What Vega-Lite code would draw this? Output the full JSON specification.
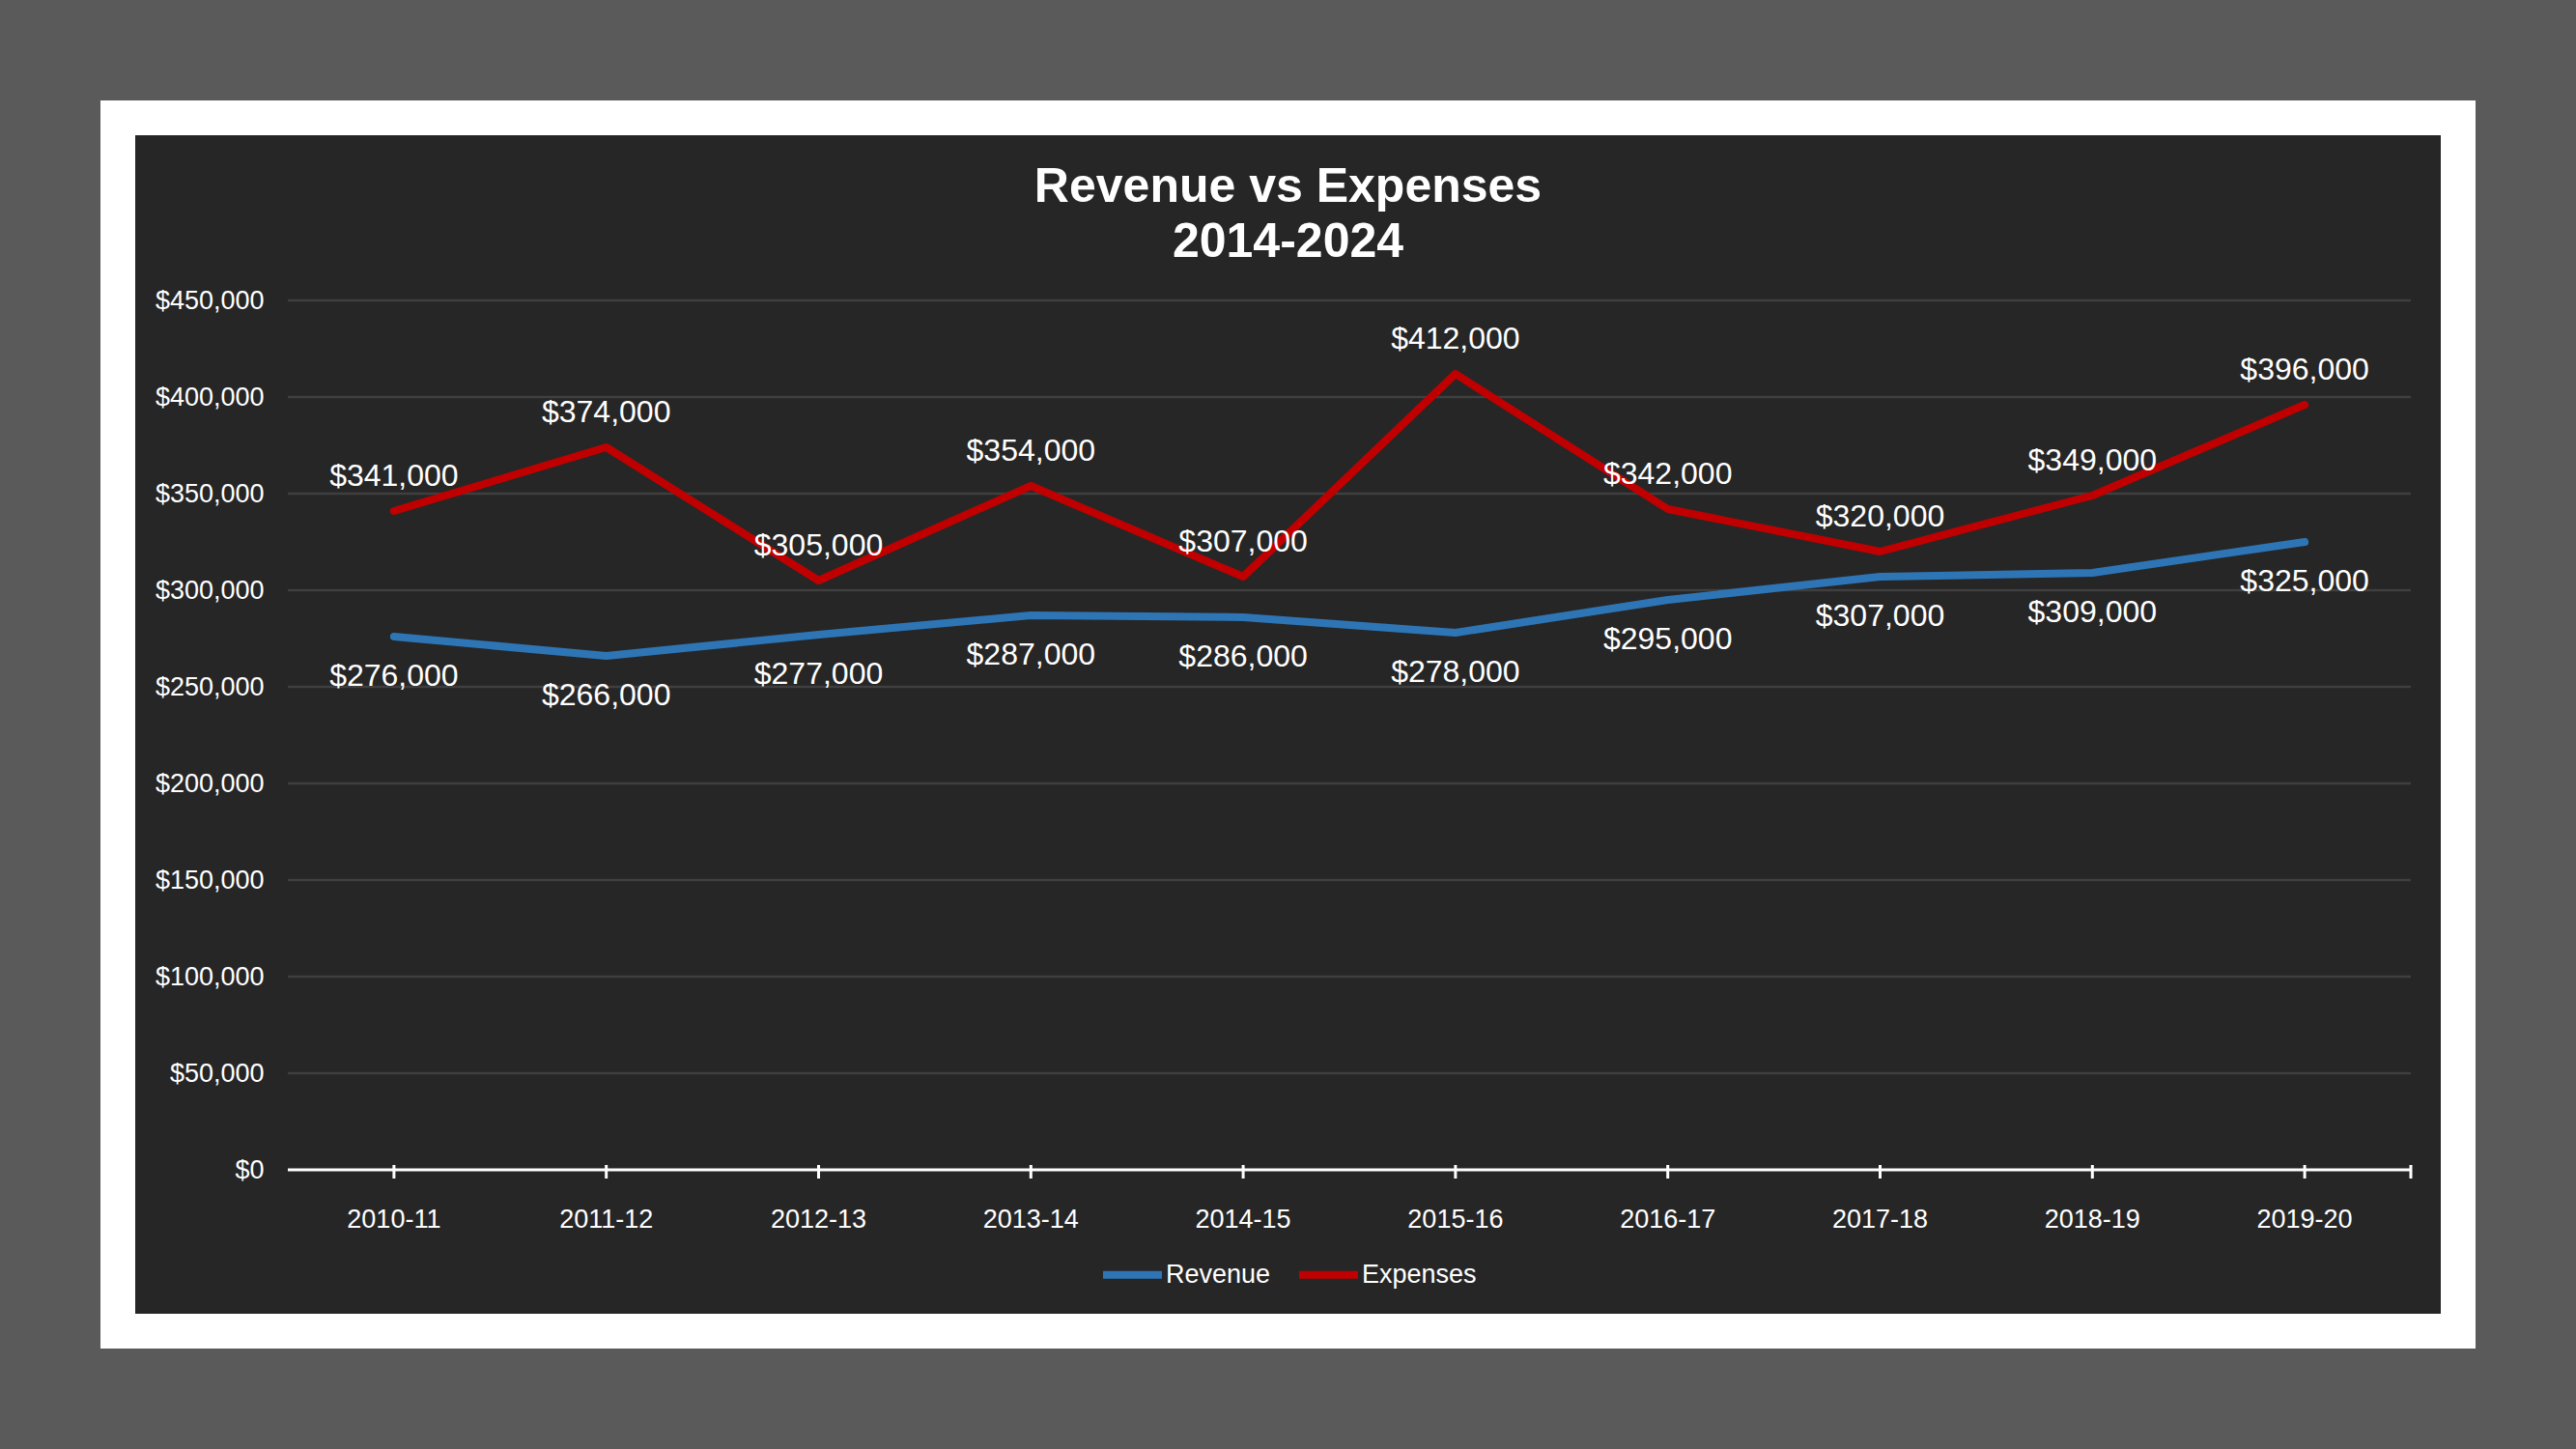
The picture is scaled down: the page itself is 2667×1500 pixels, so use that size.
{
  "$schema": "https://vega.github.io/schema/vega-lite/v6.json",
  "width": 2423,
  "height": 1256,
  "autosize": {"type": "none"},
  "padding": {"left": 122, "top": 122, "right": 122, "bottom": 122},
  "background": "#5a5a5a",
  "config": {
    "view": {"fill": "#262626", "stroke": "#ffffff", "strokeWidth": 36},
    "font": "Liberation Sans",
    "legend": {"layout": {"bottom": {"anchor": "middle"}}}
  },
  "title": {
    "text": ["Revenue vs Expenses", "2014-2024"],
    "fontSize": 50,
    "fontWeight": "bold",
    "color": "#ffffff",
    "font": "Liberation Sans",
    "lineHeight": 57,
    "anchor": "middle",
    "frame": "group",
    "baseline": "alphabetic",
    "offset": -194
  },
  "datasets": {
    "series": [
      {"year": "2010-11", "series": "Revenue", "value": 276000},
      {"year": "2011-12", "series": "Revenue", "value": 266000},
      {"year": "2012-13", "series": "Revenue", "value": 277000},
      {"year": "2013-14", "series": "Revenue", "value": 287000},
      {"year": "2014-15", "series": "Revenue", "value": 286000},
      {"year": "2015-16", "series": "Revenue", "value": 278000},
      {"year": "2016-17", "series": "Revenue", "value": 295000},
      {"year": "2017-18", "series": "Revenue", "value": 307000},
      {"year": "2018-19", "series": "Revenue", "value": 309000},
      {"year": "2019-20", "series": "Revenue", "value": 325000},
      {"year": "2010-11", "series": "Expenses", "value": 341000},
      {"year": "2011-12", "series": "Expenses", "value": 374000},
      {"year": "2012-13", "series": "Expenses", "value": 305000},
      {"year": "2013-14", "series": "Expenses", "value": 354000},
      {"year": "2014-15", "series": "Expenses", "value": 307000},
      {"year": "2015-16", "series": "Expenses", "value": 412000},
      {"year": "2016-17", "series": "Expenses", "value": 342000},
      {"year": "2017-18", "series": "Expenses", "value": 320000},
      {"year": "2018-19", "series": "Expenses", "value": 349000},
      {"year": "2019-20", "series": "Expenses", "value": 396000}
    ],
    "grid": [
      {"g": 50000}, {"g": 100000}, {"g": 150000}, {"g": 200000}, {"g": 250000},
      {"g": 300000}, {"g": 350000}, {"g": 400000}, {"g": 450000}
    ],
    "one": [{"k": 1}]
  },
  "layer": [
    {
      "data": {"name": "grid"},
      "mark": {"type": "rule", "color": "#3f3f3f", "strokeWidth": 2.5},
      "encoding": {
        "x": {"datum": "2010-11", "type": "ordinal", "bandPosition": 0},
        "x2": {"datum": "2019-20", "bandPosition": 1},
        "y": {"field": "g", "type": "quantitative"}
      }
    },
    {
      "data": {"name": "one"},
      "mark": {"type": "rule", "color": "#ffffff", "strokeWidth": 3},
      "encoding": {
        "x": {"datum": "2010-11", "type": "ordinal", "bandPosition": 0},
        "x2": {"datum": "2019-20", "bandPosition": 1},
        "y": {"datum": 0, "type": "quantitative"}
      }
    },
    {
      "data": {"name": "one"},
      "mark": {"type": "rule", "color": "#ffffff", "strokeWidth": 3},
      "encoding": {
        "x": {"datum": "2019-20", "type": "ordinal", "bandPosition": 1},
        "y": {"datum": 2500, "type": "quantitative"},
        "y2": {"datum": -4500}
      }
    },
    {
      "data": {"name": "series"},
      "transform": [{"filter": "datum.series === 'Revenue'"}],
      "mark": {"type": "rule", "color": "#ffffff", "strokeWidth": 3},
      "encoding": {
        "x": {"field": "year", "type": "ordinal"},
        "y": {"datum": 2500, "type": "quantitative"},
        "y2": {"datum": -4500}
      }
    },
    {
      "data": {"name": "series"},
      "mark": {"type": "line", "strokeWidth": 8, "strokeCap": "round", "strokeJoin": "round"},
      "encoding": {
        "x": {
          "field": "year",
          "type": "ordinal",
          "sort": null,
          "scale": {
            "domain": ["2010-11", "2011-12", "2012-13", "2013-14", "2014-15", "2015-16", "2016-17", "2017-18", "2018-19", "2019-20"],
            "paddingInner": 0,
            "paddingOuter": 0.5118,
            "align": 0.7822
          },
          "axis": {
            "orient": "bottom",
            "offset": -167,
            "domain": false,
            "ticks": false,
            "tickSize": 0,
            "grid": false,
            "labelPadding": 51,
            "labelAngle": 0,
            "labelAlign": "center",
            "labelFontSize": 27,
            "labelColor": "#ffffff",
            "labelFont": "Liberation Sans",
            "title": null
          }
        },
        "y": {
          "field": "value",
          "type": "quantitative",
          "scale": {"domain": [-83500, 544500], "nice": false, "zero": false},
          "axis": {
            "values": [0, 50000, 100000, 150000, 200000, 250000, 300000, 350000, 400000, 450000],
            "format": "$,.0f",
            "offset": -176,
            "domain": false,
            "ticks": false,
            "tickSize": 0,
            "grid": false,
            "labelPadding": 25,
            "labelFontSize": 27,
            "labelColor": "#ffffff",
            "labelFont": "Liberation Sans",
            "title": null
          }
        },
        "color": {
          "field": "series",
          "type": "nominal",
          "scale": {"domain": ["Revenue", "Expenses"], "range": ["#2e75b6", "#c00000"]},
          "legend": {
            "orient": "bottom",
            "direction": "horizontal",
            "title": null,
            "symbolType": "stroke",
            "symbolSize": 3721,
            "symbolStrokeWidth": 8,
            "labelFontSize": 27,
            "labelColor": "#ffffff",
            "labelFont": "Liberation Sans",
            "labelOffset": 0,
            "columnPadding": 13,
            "offset": -93,
            "padding": 0
          }
        }
      }
    },
    {
      "data": {"name": "series"},
      "transform": [{"filter": "datum.series === 'Expenses'"}],
      "mark": {"type": "text", "color": "#ffffff", "fontSize": 32, "font": "Liberation Sans", "baseline": "alphabetic", "dy": -26},
      "encoding": {
        "x": {"field": "year", "type": "ordinal"},
        "y": {"field": "value", "type": "quantitative"},
        "text": {"field": "value", "type": "quantitative", "format": "$,.0f"}
      }
    },
    {
      "data": {"name": "series"},
      "transform": [{"filter": "datum.series === 'Revenue'"}],
      "mark": {"type": "text", "color": "#ffffff", "fontSize": 32, "font": "Liberation Sans", "baseline": "alphabetic", "dy": 51},
      "encoding": {
        "x": {"field": "year", "type": "ordinal"},
        "y": {"field": "value", "type": "quantitative"},
        "text": {"field": "value", "type": "quantitative", "format": "$,.0f"}
      }
    }
  ]
}
